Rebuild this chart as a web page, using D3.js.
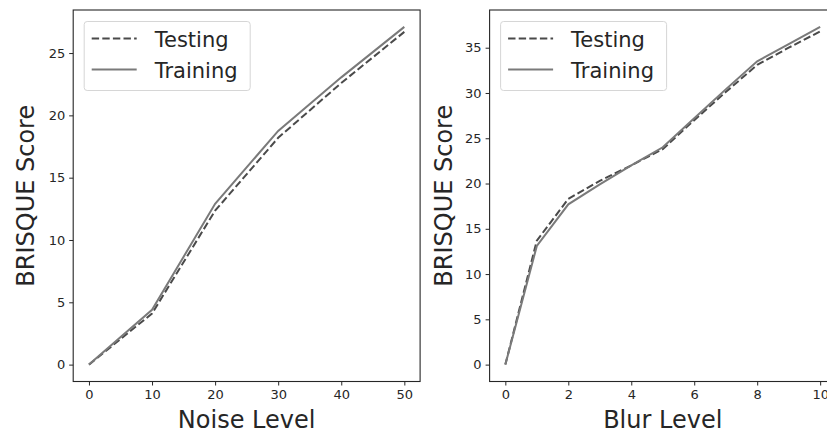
<!DOCTYPE html>
<html>
<head>
<meta charset="utf-8">
<script src="https://cdn.jsdelivr.net/npm/d3@7"></script>
<style>
    body { margin: 0; background: #fff; }
    text { font-family: "DejaVu Sans", sans-serif; fill: #262626; }
</style>
</head>
<body>
<script>
//wrap everything in a self-executing anonymous function to move to local scope
(function () {

    //chart data
    var noiseLevels = [0, 10, 20, 30, 40, 50];
    var noiseTesting = [0, 4.1, 12.35, 18.2, 22.6, 26.7];
    var noiseTraining = [0, 4.4, 12.9, 18.75, 23.05, 27.1];

    var blurLevels = [0, 1, 2, 3, 4, 5, 6, 7, 8, 9, 10];
    var blurTesting = [0, 13.7, 18.3, 20.3, 22.0, 23.8, 27.0, 30.1, 33.1, 35.0, 36.8];
    var blurTraining = [0, 13.1, 17.7, 19.9, 22.0, 24.0, 27.2, 30.4, 33.5, 35.4, 37.3];

    var noiseTicks = [0, 10, 20, 30, 40, 50];
    var noiseYTicks = [0, 5, 10, 15, 20, 25];
    var blurTicks = [0, 2, 4, 6, 8, 10];
    var blurYTicks = [0, 5, 10, 15, 20, 25, 30, 35];

    var seriesNames = ["Testing", "Training"];

    //begin script when window loads
    window.onload = setChart();

    function setChart(){

        //svg dimensions
        var width = 827,
            height = 434;

        var svg = d3.select("body")
            .append("svg")
            .attr("width", width)
            .attr("height", height);

        //left panel: noise
        drawPanel(svg, {
            left: 73.2, right: 420.1, top: 10, bottom: 381.5,
            x: noiseLevels, testing: noiseTesting, training: noiseTraining,
            xTicks: noiseTicks, yTicks: noiseYTicks,
            xLabel: "Noise Level", yLabelX: 25
        });

        //right panel: blur
        drawPanel(svg, {
            left: 489.6, right: 835.9, top: 10, bottom: 381.5,
            x: blurLevels, testing: blurTesting, training: blurTraining,
            xTicks: blurTicks, yTicks: blurYTicks,
            xLabel: "Blur Level", yLabelX: 443
        });
    };

    //pad a data extent by 5% like matplotlib does
    function padded(values){
        var ext = d3.extent(values);
        var pad = (ext[1] - ext[0]) * 0.05;
        return [ext[0] - pad, ext[1] + pad];
    }

    function drawPanel(svg, o){
        var g = svg.append("g");

        var xScale = d3.scaleLinear()
            .domain(padded(o.x))
            .range([o.left, o.right]);

        var yScale = d3.scaleLinear()
            .domain(padded(o.testing.concat(o.training)))
            .range([o.bottom, o.top]);

        //x axis
        var xAxis = d3.axisBottom(xScale)
            .tickValues(o.xTicks)
            .tickSize(4)
            .tickPadding(4)
            .tickFormat(d3.format("d"));

        var xg = g.append("g")
            .attr("transform", "translate(0," + o.bottom + ")")
            .call(xAxis);
        xg.select(".domain").remove();

        //y axis
        var yAxis = d3.axisLeft(yScale)
            .tickValues(o.yTicks)
            .tickSize(4)
            .tickPadding(4)
            .tickFormat(d3.format("d"));

        var yg = g.append("g")
            .attr("transform", "translate(" + o.left + ",0)")
            .call(yAxis);
        yg.select(".domain").remove();

        g.selectAll(".tick line").attr("stroke", "#262626").attr("stroke-width", 1);
        g.selectAll(".tick text")
            .attr("font-size", "13px")
            .attr("font-family", "DejaVu Sans, sans-serif")
            .attr("fill", "#262626");

        //lines
        var pairs = function (ys) {
            return o.x.map(function (d, i) { return [d, ys[i]]; });
        };
        var line = d3.line()
            .x(function (d) { return xScale(d[0]); })
            .y(function (d) { return yScale(d[1]); });

        g.append("path")
            .datum(pairs(o.testing))
            .attr("class", "testing")
            .attr("d", line)
            .attr("fill", "none")
            .attr("stroke", "#4a4a4a")
            .attr("stroke-width", 2)
            .attr("stroke-dasharray", "7.4,3.2");

        g.append("path")
            .datum(pairs(o.training))
            .attr("class", "training")
            .attr("d", line)
            .attr("fill", "none")
            .attr("stroke", "#7a7a7a")
            .attr("stroke-width", 2);

        //axes frame
        g.append("rect")
            .attr("x", o.left)
            .attr("y", o.top)
            .attr("width", o.right - o.left)
            .attr("height", o.bottom - o.top)
            .attr("fill", "none")
            .attr("stroke", "#262626")
            .attr("stroke-width", 1.1);

        //axis labels
        g.append("text")
            .attr("x", (o.left + o.right) / 2)
            .attr("y", 428)
            .attr("text-anchor", "middle")
            .attr("font-size", "24px")
            .text(o.xLabel);

        g.append("text")
            .attr("transform", "translate(" + (o.yLabelX + 8.5) + "," + ((o.top + o.bottom) / 2) + ") rotate(-90)")
            .attr("text-anchor", "middle")
            .attr("font-size", "24px")
            .text("BRISQUE Score");

        //legend
        var lx = o.left + 11,
            ly = o.top + 11.5;
        var legend = g.append("g").attr("transform", "translate(" + lx + "," + ly + ")");

        legend.append("rect")
            .attr("width", 166)
            .attr("height", 69)
            .attr("rx", 3)
            .attr("fill", "#fff")
            .attr("fill-opacity", 0.8)
            .attr("stroke", "#d6d6d6")
            .attr("stroke-width", 1);

        var rows = legend.selectAll(".row")
            .data(seriesNames)
            .enter()
            .append("g")
            .attr("class", "row")
            .attr("transform", function (d, i) { return "translate(0," + (17 + i * 31) + ")"; });

        rows.append("line")
            .attr("x1", 7.5)
            .attr("x2", 52.5)
            .attr("stroke", function (d) { return d == "Testing" ? "#4a4a4a" : "#7a7a7a"; })
            .attr("stroke-width", 2)
            .attr("stroke-dasharray", function (d) { return d == "Testing" ? "7.4,3.2" : null; });

        rows.append("text")
            .attr("x", 70.5)
            .attr("y", 8)
            .attr("font-size", "21px")
            .text(function (d) { return d; });
    }

})();
</script>
</body>
</html>
